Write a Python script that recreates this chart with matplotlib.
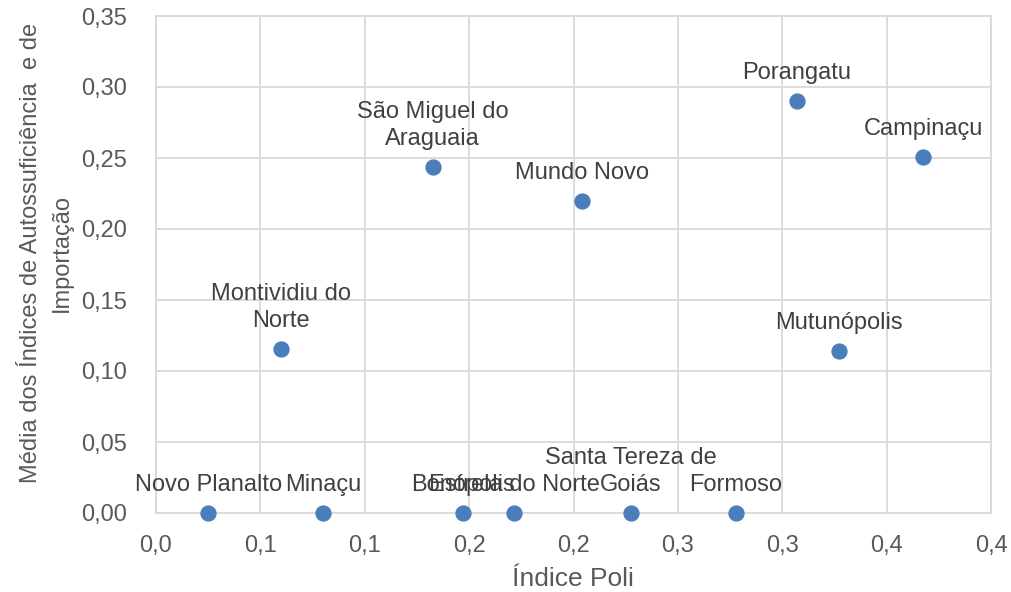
import matplotlib.pyplot as plt
from matplotlib.ticker import FixedLocator, FuncFormatter

plt.rcParams['font.family'] = ['Liberation Sans', 'DejaVu Sans']

municipios = ['Novo Planalto', 'Minaçu', 'Montividiu do\nNorte', 'São Miguel do\nAraguaia',
              'Bonópolis', 'Estrela do Norte', 'Mundo Novo', 'Santa Tereza de\nGoiás',
              'Formoso', 'Porangatu', 'Mutunópolis', 'Campinaçu']
indice_poli = [0.025, 0.080, 0.060, 0.1325, 0.147, 0.1715, 0.204, 0.2274, 0.2777, 0.3071, 0.3272, 0.3674]
media_indices = [0.0, 0.0, 0.1157, 0.2439, 0.0, 0.0, 0.2199, 0.0, 0.0, 0.2901, 0.1141, 0.2507]

x_ticks = [0.0, 0.05, 0.10, 0.15, 0.20, 0.25, 0.30, 0.35, 0.40]
y_ticks = [0.0, 0.05, 0.10, 0.15, 0.20, 0.25, 0.30, 0.35]

text_color = '#404040'
tick_color = '#595959'
grid_color = '#D9D9D9'

fig = plt.figure(facecolor='w', figsize=(10.11, 5.92), dpi=100)
ax = fig.add_axes([156 / 1011, 1 - 513 / 592, 835 / 1011, 497 / 592])

ax.scatter(indice_poli, media_indices, s=115, color='#4A7EBB', zorder=3, clip_on=False)

for name, x, y in zip(municipios, indice_poli, media_indices):
    ax.annotate(name, (x, y), xytext=(0, 12), textcoords='offset points',
                ha='center', va='bottom', fontsize=17, color=text_color,
                linespacing=1.32, multialignment='center', zorder=4)

ax.set_xlim(0, 0.4)
ax.set_ylim(0, 0.35)
ax.xaxis.set_major_locator(FixedLocator(x_ticks))
ax.yaxis.set_major_locator(FixedLocator(y_ticks))
# excel style: one decimal on x (rounded), two on y, comma as decimal mark
ax.xaxis.set_major_formatter(FuncFormatter(lambda v, _: f'{round(v + 1e-9, 1):.1f}'.replace('.', ',')))
ax.yaxis.set_major_formatter(FuncFormatter(lambda v, _: f'{v:.2f}'.replace('.', ',')))

ax.grid(True, color=grid_color, lw=1.3, zorder=0)
ax.set_axisbelow(True)
for sp in ax.spines.values():
    sp.set_color(grid_color)
    sp.set_linewidth(1.3)

ax.tick_params(length=0, labelsize=17, colors=tick_color)
ax.tick_params(axis='y', pad=21)
ax.tick_params(axis='x', pad=16)

ax.set_xlabel('Índice Poli', fontsize=19, color=tick_color)
ax.xaxis.set_label_coords(0.499, -0.108)
ax.set_ylabel('Média dos Índices de Autossuficiência  e de\nImportação', fontsize=17,
              color=tick_color, linespacing=1.5)
ax.yaxis.set_label_coords(-0.100, 0.523)

fig.savefig('out.png', dpi=100, facecolor='w')
